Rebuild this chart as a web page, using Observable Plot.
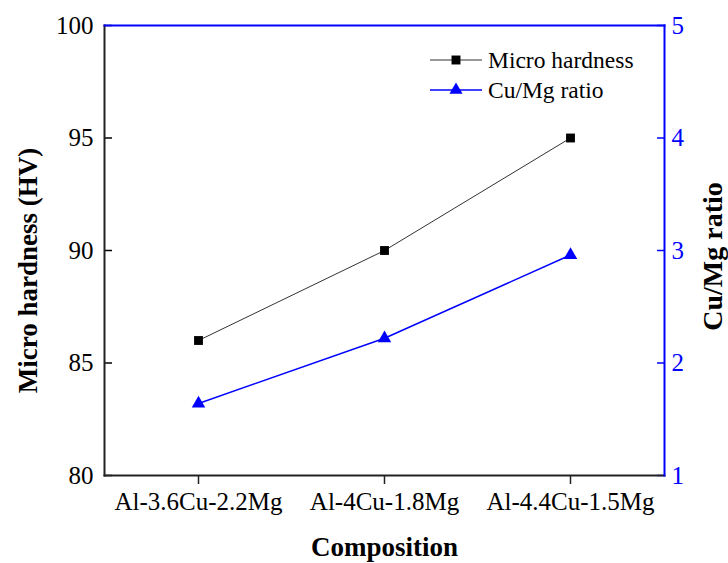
<!DOCTYPE html>
<html>
<head>
<meta charset="utf-8">
<script src="https://cdn.jsdelivr.net/npm/d3@7"></script>
<script src="https://cdn.jsdelivr.net/npm/@observablehq/plot@0.6"></script>
<style>
  html, body { margin: 0; padding: 0; background: white; }
  #chart svg { display: block; }
</style>
</head>
<body>
<div id="chart"></div>
<script>
const compositions = ["Al-3.6Cu-2.2Mg", "Al-4Cu-1.8Mg", "Al-4.4Cu-1.5Mg"];
const hardness = [86, 90, 95];
const ratio = [1.64, 2.22, 2.96];
const hardnessTicks = [80, 85, 90, 95, 100];
const ratioTicks = [1, 2, 3, 4, 5];
const seriesNames = ["Micro hardness", "Cu/Mg ratio"];

const BLUE = "#0000ff";
const FONT = "'Liberation Serif', 'Times New Roman', serif";

// map ratio (1..5) onto hardness scale (80..100)
const toH = r => 80 + (r - 1) * 5;
const fromH = h => (h - 80) / 5 + 1;

const rows = compositions.map((c, i) => ({c, h: hardness[i], r: toH(ratio[i])}));

const plot = Plot.plot({
  width: 728,
  height: 563,
  marginLeft: 104,
  marginRight: 64,
  marginTop: 25,
  marginBottom: 88,
  style: {fontFamily: FONT, fontSize: "25px", background: "white", color: "black"},
  x: {type: "point", domain: compositions, padding: 0.5},
  y: {domain: [80, 100]},
  marks: [
    Plot.axisX({tickSize: 9, tickPadding: 8, label: null, stroke: "#222", strokeWidth: 1.5, fontSize: 25}),
    Plot.axisY({ticks: hardnessTicks, tickSize: -8, tickPadding: 19, label: null, strokeWidth: 1.5, fontSize: 25}),
    Plot.axisY({ticks: ratioTicks.map(toH), anchor: "right", tickSize: -8, tickPadding: 15,
      tickFormat: d => String(Math.round(fromH(d))), label: null, color: BLUE, strokeWidth: 1.5, fontSize: 25}),
    Plot.frame({anchor: "left", stroke: "#222", strokeWidth: 2}),
    Plot.frame({anchor: "bottom", stroke: "#222", strokeWidth: 2}),
    Plot.frame({anchor: "top", stroke: BLUE, strokeWidth: 2}),
    Plot.frame({anchor: "right", stroke: BLUE, strokeWidth: 2}),
    Plot.line(rows, {x: "c", y: "h", stroke: "#333", strokeWidth: 1}),
    Plot.dot(rows, {x: "c", y: "h", symbol: "square", r: 5, fill: "black", stroke: null}),
    Plot.line(rows, {x: "c", y: "r", stroke: BLUE, strokeWidth: 1.5}),
    Plot.dot(rows, {x: "c", y: "r", symbol: "triangle", r: 5, fill: BLUE, stroke: null}),
    Plot.text(["Micro hardness (HV)"], {frameAnchor: "left", dx: -76, dy: 20, rotate: -90, textAnchor: "middle", lineAnchor: "middle", fontWeight: "bold", fontSize: 27, fill: "black"}),
    Plot.text(["Cu/Mg ratio"], {frameAnchor: "right", dx: 49, dy: 6, rotate: -90, textAnchor: "middle", lineAnchor: "middle", fontWeight: "bold", fontSize: 28, fill: "black"}),
    Plot.text(["Composition"], {frameAnchor: "bottom", dy: 72, textAnchor: "middle", lineAnchor: "middle", fontWeight: "bold", fontSize: 27, fill: "black"})
  ]
});

// legend
const svg = d3.select(plot);
const lg = svg.append("g").style("font-family", FONT).style("font-size", "23.5px");
const items = [
  {name: seriesNames[0], color: "black", line: "#333", sym: d3.symbolSquare, size: 80, y: 60},
  {name: seriesNames[1], color: BLUE, line: BLUE, sym: d3.symbolTriangle, size: 75, y: 90}
];
items.forEach(it => {
  lg.append("line").attr("x1", 430).attr("x2", 482).attr("y1", it.y).attr("y2", it.y)
    .attr("stroke", it.line).attr("stroke-width", it.color === BLUE ? 1.5 : 1);
  lg.append("path").attr("d", d3.symbol(it.sym, it.size)()).attr("transform", `translate(456,${it.y})`)
    .attr("fill", it.color);
  lg.append("text").attr("x", 488).attr("y", it.y).attr("dy", "0.32em")
    .style("text-anchor", "start").attr("fill", "black").text(it.name);
});

document.getElementById("chart").appendChild(plot);
</script>
</body>
</html>
